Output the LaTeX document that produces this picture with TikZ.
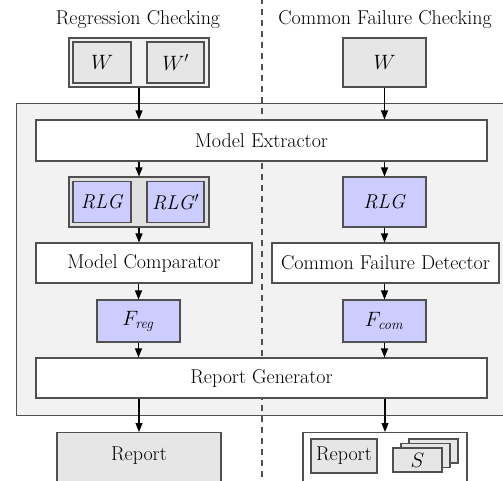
\documentclass[tikz,border=0pt]{standalone}
\usetikzlibrary{arrows.meta}
\definecolor{bord}{RGB}{80,80,80}
\definecolor{boxgray}{RGB}{230,230,230}
\definecolor{lightbg}{RGB}{242,242,242}
\definecolor{grpbg}{RGB}{224,224,224}
\definecolor{blu}{RGB}{204,204,255}
\begin{document}
\begin{tikzpicture}[x=1pt,y=-1pt,
  every node/.style={font=\fontsize{20}{23}\selectfont},
  bx/.style={draw=bord, line width=1.1pt, rectangle, inner sep=0pt},
  wbox/.style={bx, fill=boxgray},
  bbox/.style={bx, fill=blu},
  whbox/.style={bx, fill=white},
  arr/.style={draw=black, line width=1.1pt, -{Triangle[length=9pt,width=7pt]}},
]
\useasboundingbox (0,0) rectangle (503,480);
\clip (0,0) rectangle (503,480);
% outer big box
\node[bx, fill=lightbg, minimum width=500, minimum height=312, anchor=north west] (big) at (16,103) {};
% dashed divider
\draw[bord, line width=1.1pt, dash pattern=on 6pt off 5pt] (262,-2) coordinate (dtop) -- (262,482) coordinate (dbot);
% titles
\node (t1) at (138,20) {Regression Checking};
\node (t2) at (385,20) {Common Failure Checking};
% W group
\node[bx, fill=lightbg, minimum width=140, minimum height=49] (wg) at (139,62.5) {};
\node[wbox, minimum width=58, minimum height=41] (w1) at (102,62.5) {$W$};
\node[wbox, minimum width=57, minimum height=41] (w1p) at (175.5,62.5) {$W'$};
\node[wbox, minimum width=83, minimum height=49] (w2) at (384.5,62.5) {$W$};
% model extractor
\node[whbox, minimum width=451, minimum height=41] (me) at (261.5,140.5) {Model Extractor};
% RLG group
\node[bx, fill=grpbg, minimum width=140, minimum height=50] (rg) at (139,202) {};
\node[bbox, minimum width=58, minimum height=41] (rlg1) at (102,202) {\textit{RLG}};
\node[bbox, minimum width=57, minimum height=41] (rlg1p) at (175.5,202) {\textit{RLG}$'$};
\node[bbox, minimum width=83, minimum height=50] (rlg2) at (384.5,202) {\textit{RLG}};
% comparators
\node[whbox, minimum width=216, minimum height=40] (mc) at (144,263) {Model Comparator};
\node[whbox, minimum width=227, minimum height=40] (cfd) at (385.5,263) {Common Failure Detector};
% F boxes
\node[bbox, minimum width=83, minimum height=42] (freg) at (138.5,321) {$F_{\mathit{reg}}$};
\node[bbox, minimum width=83, minimum height=42] (fcom) at (384.5,321) {$F_{\mathit{com}}$};
% report generator
\node[whbox, minimum width=451, minimum height=40] (rgen) at (261.5,378) {Report Generator};
% bottom
\node[wbox, minimum width=164, text height=28pt, text depth=40pt, anchor=north] (rep) at (139,432) {Report};
\node[whbox, minimum width=164, minimum height=70, anchor=north] (out2) at (385,432) {};
\node[wbox, minimum width=66, minimum height=34] (rep2) at (344,456) {Report};
\node[wbox, minimum width=49, minimum height=24] (s3) at (433.5,451) {};
\node[wbox, minimum width=49, minimum height=24] (s2) at (425.5,455.5) {};
\node[wbox, minimum width=49, minimum height=24] (s1) at (417.5,460) {$S$};
% arrows
\draw[arr] (wg.south) -- (wg.south |- me.north);
\draw[arr] (w2.south) -- (w2.south |- me.north);
\draw[arr] (me.south -| rg.north) -- (rg.north);
\draw[arr] (me.south -| rlg2.north) -- (rlg2.north);
\draw[arr] (rg.south) -- (rg.south |- mc.north);
\draw[arr] (rlg2.south) -- (rlg2.south |- cfd.north);
\draw[arr] (mc.south -| freg.north) -- (freg.north);
\draw[arr] (cfd.south -| fcom.north) -- (fcom.north);
\draw[arr] (freg.south) -- (freg.south |- rgen.north);
\draw[arr] (fcom.south) -- (fcom.south |- rgen.north);
\draw[arr] (rgen.south -| rep.north) -- (rep.north);
\draw[arr] (rgen.south -| out2.north) -- (out2.north);
\end{tikzpicture}
\end{document}
